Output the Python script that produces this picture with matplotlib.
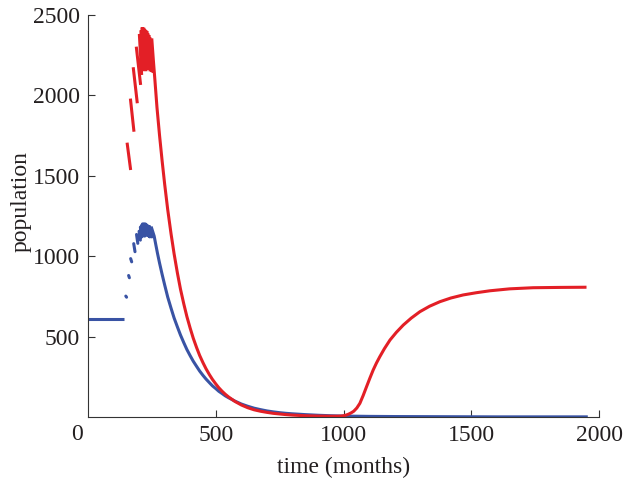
import numpy as np
from matplotlib import pyplot as plt
from matplotlib import transforms

plt.rcParams['font.family'] = ['Liberation Serif', 'DejaVu Serif']
plt.rcParams['font.size'] = 17

red = '#e31f26'
blue = '#3953a4'

# blue: flat start, then short dashes, then smooth decay
blue_flat_t = [0, 142]
blue_flat_y = [611, 611]

# dashes: start t, start y, end t, end y
blue_seg_t0 = [148, 159, 167, 179, 190, 200, 205, 209, 213, 217, 221, 225, 229, 233, 237, 241, 245]
blue_seg_y0 = [752, 880, 985, 1078, 1135, 1155, 1180, 1190, 1200, 1200, 1200, 1200, 1195, 1190, 1185, 1185, 1175]
blue_seg_t1 = [151, 162, 171, 184, 195, 205, 210, 214, 218, 222, 226, 230, 234, 238, 242, 246, 250]
blue_seg_y1 = [745, 866, 965, 1028, 1080, 1100, 1120, 1125, 1130, 1125, 1130, 1135, 1130, 1125, 1120, 1125, 1120]

blue_t = [249, 254, 259, 265, 272, 280, 290, 300, 312, 325, 337, 350, 362, 375, 387, 400, 412,
          425, 437, 450, 462, 475, 487, 500, 512, 525, 537, 550, 575, 600, 625, 650, 675,
          700, 725, 750, 775, 800, 850, 900, 950, 1000, 1100, 1200, 1400, 1600, 1800, 1950]
blue_y = [1175, 1150, 1125, 1075, 1018, 958, 888, 822, 746, 677, 616, 560, 510, 462, 420, 381, 347,
          315, 286, 259, 236, 214, 194, 177, 160, 146, 132, 120, 99, 81, 67, 55, 46,
          38, 32, 27, 23, 20, 15, 11, 8, 6, 4, 3, 2, 1, 1, 1]

red_seg_t0 = [153, 166, 177, 189, 201, 207, 211, 215, 219, 223, 227, 231, 235, 239, 243, 247]
red_seg_y0 = [1706, 1980, 2175, 2303, 2382, 2405, 2423, 2423, 2420, 2410, 2405, 2400, 2385, 2375, 2360, 2320]
red_seg_t1 = [167, 180, 193, 206, 210, 215, 219, 223, 227, 231, 235, 239, 243, 247, 251, 255]
red_seg_y1 = [1536, 1774, 1951, 2065, 2127, 2150, 2160, 2170, 2150, 2160, 2170, 2160, 2150, 2150, 2145, 2140]

red_t = [250, 256, 262, 270, 280, 290, 300, 312, 325, 337, 350, 362, 375, 387, 400, 412, 425,
         437, 450, 462, 475, 487, 500, 512, 525, 537, 550, 575, 600, 625, 650, 675, 700,
         725, 750, 775, 800, 850, 900, 950, 975, 990, 1000, 1010, 1020, 1030, 1040, 1052, 1064,
         1077, 1090, 1103, 1116, 1129, 1142, 1160, 1182, 1207, 1234, 1265, 1299, 1337,
         1377, 1420, 1468, 1520, 1573, 1650, 1742, 1850, 1945]
red_y = [2345, 2215, 2093, 1925, 1752, 1595, 1449, 1290, 1140, 1015, 895, 795, 703, 625, 552, 490, 432,
         383, 338, 300, 264, 234, 206, 182, 160, 142, 125, 97, 75, 58, 45, 36, 29,
         23, 19, 15, 12, 8, 6, 5, 5, 6, 8, 12, 18, 26, 36, 56, 85,
         134, 188, 241, 292, 336, 375, 425, 479, 527, 572, 615, 655, 689,
         717, 740, 759, 773, 785, 797, 804, 806, 807]


def segs(t0, y0, t1, y1):
    xs, ys = [], []
    for a, b, c, d in zip(t0, y0, t1, y1):
        xs += [a, c, np.nan]
        ys += [b, d, np.nan]
    return xs, ys


fig = plt.figure(figsize=(6.24, 4.83), dpi=100)
ax = fig.add_axes([0.141, 0.1366, 0.819, 0.8324])

lw = 2.2
ax.plot(blue_flat_t, blue_flat_y, color=blue, lw=lw, solid_capstyle='butt')
bx, by = segs(blue_seg_t0, blue_seg_y0, blue_seg_t1, blue_seg_y1)
ax.plot(bx, by, color=blue, lw=lw, solid_capstyle='round')
ax.plot(blue_t, blue_y, color=blue, lw=lw, solid_joinstyle='round')

rx, ry = segs(red_seg_t0, red_seg_y0, red_seg_t1, red_seg_y1)
ax.plot(rx, ry, color=red, lw=lw, solid_capstyle='butt')
ax.plot(red_t, red_y, color=red, lw=lw, solid_joinstyle='round')

ax.set_xlim(0, 2000)
ax.set_ylim(0, 2500)
ax.set_xticks([500, 1000, 1500, 2000])
ax.set_yticks([500, 1000, 1500, 2000, 2500])
ax.tick_params(direction='in', length=5, width=0.8, color='#333333', labelcolor='#231f20', pad=6)
for s in ['top', 'right']:
    ax.spines[s].set_visible(False)
for s in ['left', 'bottom']:
    ax.spines[s].set_color('#333333')
    ax.spines[s].set_linewidth(0.8)

# the lone "0" sits left of the origin
tr = transforms.blended_transform_factory(ax.transData, ax.transAxes)
ax.text(-43, -0.018, '0', transform=tr, ha='center', va='top', color='#231f20')

ax.set_xlabel('time (months)', color='#231f20')
ax.set_ylabel('population', color='#231f20')
ax.xaxis.set_label_coords(0.5, -0.1)
ax.yaxis.set_label_coords(-0.11, 0.537)

plt.savefig('out.png', dpi=100)
